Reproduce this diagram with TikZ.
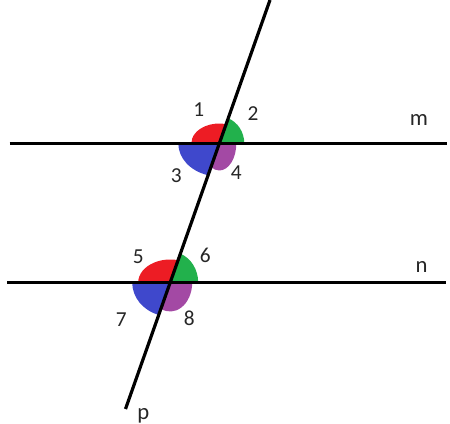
\documentclass[tikz,border=0pt]{standalone}
\usepackage{fontspec}
\setmainfont{Carlito}
\tikzset{every picture/.style={line width=0.75pt}}
\tikzset{
  lineq/.style={line width=2.4pt},
  numlbl/.style={inner sep=0pt,text=black!85,font=\fontsize{16}{16}\selectfont},
  letlbl/.style={inner sep=0pt,text=black!85,font=\fontsize{17}{17}\selectfont}
}
\definecolor{angred}{RGB}{237,28,36}
\definecolor{anggreen}{RGB}{34,177,76}
\definecolor{angblue}{RGB}{63,72,204}
\definecolor{angpurple}{RGB}{163,73,164}

\begin{document}
\begin{tikzpicture}[x=0.75pt,y=0.75pt,yscale=-1,xscale=1]
\useasboundingbox (0,0) rectangle (450,424);

%Coordinates
\coordinate (m1) at (9.5,143.5);
\coordinate (m2) at (446.5,143.5);
\coordinate (n1) at (7,282.5);
\coordinate (n2) at (445.5,282.5);
\coordinate (p1) at (270,0);
\coordinate (p2) at (125.5,409);
\coordinate (O1) at (219.3,143.5);
\coordinate (O2) at (170.2,282.5);

%Shape: Sectors at m
\fill [angred] (O1) -- ++(-28,0) arc [start angle=180,end angle=284.15,x radius=28,y radius=20] -- cycle ;
\fill [anggreen] (O1) -- ++(290.9:25 and 27) arc [start angle=290.9,end angle=360,x radius=25,y radius=27] -- cycle ;
\fill [angblue] (O1) -- ++(105.9:41 and 33) arc [start angle=105.9,end angle=180,x radius=41,y radius=33] -- cycle ;
\fill [angpurple] (O1) -- ++(17,0) arc [start angle=0,end angle=119.5,x radius=17,y radius=27] -- cycle ;

%Shape: Sectors at n
\fill [angred] (O2) -- ++(-32,0) arc [start angle=180,end angle=284.24,x radius=32,y radius=23] -- cycle ;
\fill [anggreen] (O2) -- ++(291.34:28 and 31) arc [start angle=291.34,end angle=360,x radius=28,y radius=31] -- cycle ;
\fill [angblue] (O2) -- ++(107.53:38 and 34) arc [start angle=107.53,end angle=180,x radius=38,y radius=34] -- cycle ;
\fill [angpurple] (O2) -- ++(22,0) arc [start angle=0,end angle=114.95,x radius=22,y radius=29] -- cycle ;

%Straight Lines
\draw [lineq] (m1) -- (m2) ;
\draw [lineq] (n1) -- (n2) ;
\draw [lineq] (p1) -- (p2) ;

%Labels
\node [numlbl] (l1) at (198.7,109.3) {1};
\node [numlbl] (l2) at (253,113.3) {2};
\node [numlbl] (l3) at (176.2,175.3) {3};
\node [numlbl] (l4) at (236.2,172.8) {4};
\node [numlbl] (l5) at (138.3,257) {5};
\node [numlbl] (l6) at (205.3,255.8) {6};
\node [numlbl] (l7) at (121.3,319.7) {7};
\node [numlbl] (l8) at (189.2,318.3) {8};
\node [letlbl] (lm) at (419,120.5) {m};
\node [letlbl] (ln) at (421.5,267) {n};
\node [letlbl] (lp) at (143.3,415.5) {p};

\end{tikzpicture}
\end{document}
